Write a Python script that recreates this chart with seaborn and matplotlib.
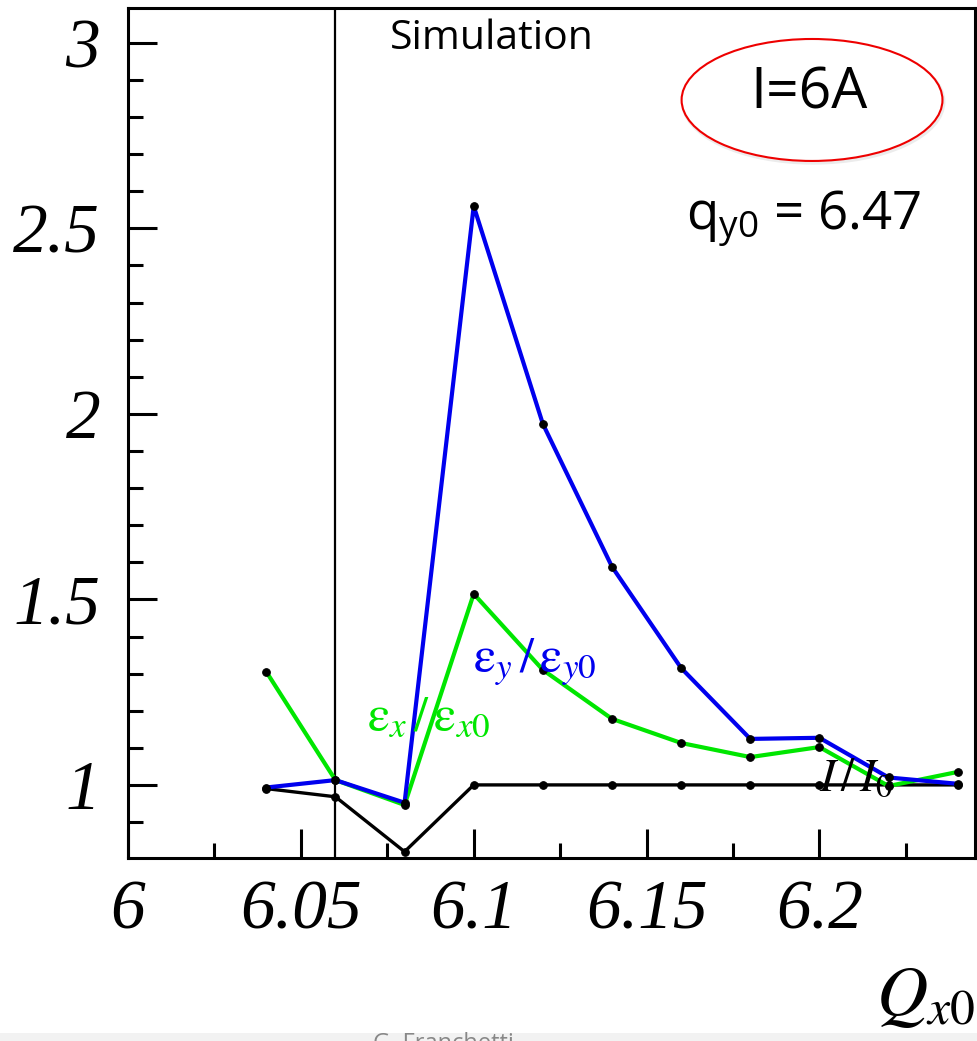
import matplotlib
matplotlib.use("Agg")
import matplotlib.pyplot as plt
from matplotlib.patches import Ellipse, Rectangle
from matplotlib.ticker import MultipleLocator
import seaborn as sns

# ---- data ----
qx0 = [6.04, 6.06, 6.08, 6.10, 6.12, 6.14, 6.16, 6.18, 6.20, 6.22, 6.24]
intensity_ratio = [0.99, 0.968, 0.82, 1.0, 1.0, 1.0, 1.0, 1.0, 1.0, 1.0, 1.0]
emit_x_ratio = [1.305, 1.013, 0.946, 1.515, 1.31, 1.178, 1.113, 1.075, 1.102, 0.997, 1.035]
emit_y_ratio = [0.993, 1.013, 0.952, 2.56, 1.973, 1.588, 1.315, 1.124, 1.127, 1.02, 1.003]
x_ticks = [6.0, 6.05, 6.1, 6.15, 6.2]
x_tick_labels = ["6", "6.05", "6.1", "6.15", "6.2"]
y_ticks = [1.0, 1.5, 2.0, 2.5, 3.0]
y_tick_labels = ["1", "1.5", "2", "2.5", "3"]
resonance_q = 6.06

sns.set_style("white")
plt.rcParams["font.family"] = ["Open Sans", "DejaVu Sans"]
plt.rcParams["mathtext.fontset"] = "custom"
plt.rcParams["mathtext.rm"] = "Open Sans"
plt.rcParams["mathtext.it"] = "Open Sans:italic"
plt.rcParams["text.color"] = "black"
plt.rcParams["axes.labelcolor"] = "black"
plt.rcParams["xtick.color"] = "black"
plt.rcParams["ytick.color"] = "black"

fig = plt.figure(figsize=(9.77, 10.41), dpi=100)
ax = fig.add_axes([128 / 977, 1 - 858 / 1041, 847 / 977, 850 / 1041])

mk = dict(marker="o", markersize=5.5, markerfacecolor="black", markeredgecolor="black")
sns.lineplot(x=qx0, y=intensity_ratio, color="black", linewidth=2.4, ax=ax, **mk)
sns.lineplot(x=qx0, y=emit_x_ratio, color="#00e600", linewidth=3.0, ax=ax, **mk)
sns.lineplot(x=qx0, y=emit_y_ratio, color="#0000ee", linewidth=3.0, ax=ax, **mk)

ax.axvline(resonance_q, color="black", linewidth=1.6, zorder=1)

ax.set_xlim(6.0, 6.245)
ax.set_ylim(0.803, 3.094)

serif_it = dict(family="Liberation Serif", style="italic", size=50, color="black")
ax.set_xticks(x_ticks, x_tick_labels, **serif_it)
ax.set_yticks(y_ticks, y_tick_labels, **serif_it)
ax.xaxis.set_minor_locator(MultipleLocator(0.025))
ax.yaxis.set_minor_locator(MultipleLocator(0.1))
ax.tick_params(which="major", direction="in", length=21, width=2.2, color="black")
ax.tick_params(which="minor", direction="in", length=11, width=2.2, color="black")
ax.tick_params(axis="x", which="both", bottom=True, top=False, pad=16)
ax.tick_params(axis="y", which="both", left=True, right=False, pad=20)
for s in ax.spines.values():
    s.set_linewidth(2.2)
    s.set_color("black")

ax.set_xlabel(r"$Q_{x0}$", loc="right", fontsize=51, math_fontfamily="stix",
              labelpad=12, color="black")

# in-plot labels
ax.text(6.087, 1.18, r"$\mathrm{\varepsilon}_x\,/\,\mathrm{\varepsilon}_{x0}$", color="#00e600",
        fontsize=36, math_fontfamily="stix", ha="center", va="center")
ax.text(6.1176, 1.33, r"$\mathrm{\varepsilon}_y\,/\,\mathrm{\varepsilon}_{y0}$", color="#0000ee",
        fontsize=36, math_fontfamily="stix", ha="center", va="center")
ax.text(6.2105, 1.02, r"$I\,/\,I_0$", color="black", fontsize=34,
        math_fontfamily="stix", ha="center", va="center")

ax.text(0.43, 0.964, "Simulation", transform=ax.transAxes, fontsize=29.5,
        ha="center", va="center", color="black")

ell = Ellipse((0.8076, 0.8918), 0.308, 0.1435, transform=ax.transAxes,
              facecolor="white", edgecolor="#ee0000", linewidth=1.5, zorder=5)
shadow = Ellipse((0.8090, 0.8895), 0.308, 0.1435, transform=ax.transAxes,
                 facecolor="none", edgecolor="#ececec", linewidth=2.5, zorder=4)
ax.add_patch(shadow)
ax.add_patch(ell)
ax.text(0.804, 0.8988, "I=6A", transform=ax.transAxes, fontsize=41,
        ha="center", va="center", zorder=6, color="black")
ax.text(0.797, 0.752, r"q$_{\mathrm{y0}}$ = 6.47", transform=ax.transAxes, fontsize=38,
        ha="center", va="center", zorder=6, color="black")

# footer strip (partly cut off in the source)
fig.patches.append(Rectangle((0, 0), 1, 8 / 1041, transform=fig.transFigure,
                             facecolor="#f2f2f2", edgecolor="none"))
fig.text(373 / 977, -3 / 1041, "G. Franchetti", color="#888888", fontsize=17,
         ha="left", va="center")

fig.savefig("out.png", dpi=100)
